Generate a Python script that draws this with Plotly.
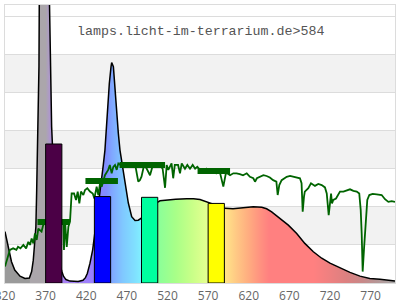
import plotly.graph_objects as go

# ---------------- data ----------------
# lamp spectrum (relative units)
lamp_nm = [320, 322, 324, 328, 332, 338.5, 344.6, 350, 352.8, 354.8,
           356.5, 358, 359, 360, 361, 361.8, 362.2, 364, 367, 370,
           373, 374.5, 376.2, 377.4, 378.3, 380, 382, 384, 386, 388,
           390, 392, 395, 400, 410, 416, 419, 421.3, 424.6, 427.9,
           430, 433, 436, 439, 441, 443, 446, 448.4, 450.5, 451.3,
           453.4, 455.4, 457.5, 459.5, 461.5, 465.6, 469, 471.8, 475.9, 480,
           484, 487.8, 492, 500, 507.5, 510.8, 519, 530, 543.6, 552,
           560, 568, 575, 585, 590.8, 600.6, 613.3, 625.6, 636, 642,
           648.2, 658.5, 668.7, 679, 689, 699.5, 709.8, 720, 732.3, 744.6,
           756.9, 769, 781.5, 790, 800]
lamp_val = [1.35, 1.15, 0.87, 0.56, 0.34, 0.18, 0.12, 0.13, 0.30, 0.60,
            1.05, 1.48, 2.44, 3.49, 4.10, 5.68, 7.40, 12.0, 16.0, 14.0,
            9.5, 7.3, 5.68, 4.10, 3.67, 2.60, 1.70, 1.10, 0.70, 0.45,
            0.30, 0.18, 0.09, 0.05, 0.04, 0.07, 0.14, 0.25, 0.52, 0.87,
            1.22, 1.70, 2.20, 2.70, 3.10, 3.49, 4.63, 5.24, 5.68, 5.79,
            5.68, 5.07, 4.45, 3.93, 3.49, 2.97, 2.44, 2.10, 1.74, 1.64,
            1.65, 1.70, 1.85, 2.00, 2.12, 2.16, 2.18, 2.20, 2.21, 2.21,
            2.19, 2.13, 2.08, 2.00, 1.96, 1.95, 1.98, 2.00, 1.99, 1.95,
            1.87, 1.70, 1.52, 1.30, 1.04, 0.82, 0.65, 0.52, 0.39, 0.28,
            0.18, 0.12, 0.10, 0.07, 0.05]

# wavelength colours for the spectrum fill (nm, colour)
spec_nm = [320, 350, 351, 370, 378, 390, 425, 432, 445, 452,
           465, 480, 488, 500, 510, 530, 550, 568, 580, 592,
           605, 620, 635, 645, 700, 720, 740, 760, 780, 800]
spec_col = ['#9a9a9a', '#9a9a9a', '#aba6ab', '#aba6ab', '#b090e0', '#a880f2',
            '#9c80fc', '#9080ff', '#8090ff', '#80a8ff', '#80c8ff', '#80e0ff',
            '#80f0ff', '#80ffc0', '#8cff98', '#a8ff88', '#c8ff88', '#e4ff90',
            '#ffff80', '#ffe288', '#ffc884', '#ffac80', '#ff9080', '#ff8080',
            '#ff8080', '#ee8080', '#dc8080', '#c88888', '#b49898', '#a8a8a8']

# sunlight spectrum
sun_nm = [320, 324, 326, 330, 334, 336, 339, 342.6, 346, 348.7,
          350.8, 352.8, 354.9, 356.9, 359, 361, 365, 367, 370, 375,
          380, 383, 386, 390, 391.8, 392.6, 393.8, 396, 398, 400,
          400.9, 402, 405, 407.4, 409.5, 411.5, 413.5, 416.4, 418.5, 421.3,
          424.6, 428, 430, 430.8, 432.8, 434.8, 437, 439, 443, 447,
          449, 451.3, 453.3, 455.4, 457.5, 459.5, 462.4, 465.6, 469, 471.8,
          475, 478, 481, 484, 486, 488, 491, 494, 498.5, 502,
          506, 510, 514, 517, 519, 521, 525, 527, 529, 533,
          535.4, 537.5, 541.5, 544.4, 547.7, 551, 554, 556.7, 560, 564,
          568, 572, 576, 580, 584, 588.7, 592, 597, 601, 605,
          609, 613, 617.5, 621.5, 625.6, 627.7, 630, 633.8, 638, 642,
          646, 650, 654, 655.6, 657.6, 660.5, 666.7, 670.8, 677, 683,
          685, 686.4, 688, 689, 693.3, 696.6, 701.5, 705.6, 709.8, 713.8,
          716, 717, 718.4, 720, 721.3, 722.5, 724, 727.4, 730.3, 732.3,
          736.5, 740.6, 744.6, 748.8, 752.9, 756, 757.8, 759, 760.2, 761.8,
          763, 764.3, 765.9, 768.4, 772.5, 777.5, 783.6, 787.7, 791.8, 796,
          800]
sun_val = [0.43, 0.69, 0.87, 0.91, 0.87, 0.95, 0.91, 1.00, 0.91, 1.08,
           1.00, 1.17, 1.04, 1.30, 1.13, 1.43, 1.35, 1.52, 1.61, 1.55,
           1.50, 1.60, 1.50, 1.58, 1.61, 0.87, 1.65, 0.95, 1.48, 1.61,
           2.09, 2.35, 2.35, 2.18, 2.40, 2.09, 2.40, 2.31, 2.44, 2.49,
           2.40, 2.35, 2.22, 2.35, 2.53, 2.31, 2.62, 2.53, 2.83, 2.97,
           3.10, 2.88, 3.05, 3.10, 2.97, 3.14, 3.10, 3.05, 3.12, 3.10,
           3.05, 3.12, 3.02, 2.66, 2.70, 2.79, 3.08, 3.02, 2.83, 3.10,
           3.05, 3.12, 3.00, 2.50, 3.10, 2.97, 3.14, 2.75, 3.10, 3.10,
           2.88, 3.14, 3.00, 3.10, 3.00, 3.10, 3.00, 3.05, 2.97, 2.90,
           3.00, 2.92, 2.97, 2.88, 2.95, 2.53, 2.90, 2.83, 2.88, 2.88,
           2.86, 2.83, 2.88, 2.79, 2.75, 2.66, 2.75, 2.79, 2.83, 2.81,
           2.77, 2.70, 2.66, 2.31, 2.57, 2.70, 2.79, 2.81, 2.77, 2.75,
           2.62, 1.87, 2.27, 2.40, 2.49, 2.62, 2.55, 2.60, 2.57, 2.51,
           2.35, 2.00, 1.78, 2.09, 2.35, 2.09, 2.18, 2.22, 2.35, 2.40,
           2.40, 2.44, 2.46, 2.42, 2.40, 2.35, 1.92, 1.30, 0.30, 0.87,
           1.30, 1.74, 2.18, 2.31, 2.34, 2.33, 2.31, 2.20, 2.13, 2.15,
           2.13]

# sunlight band averages
mark_start = [360, 419, 461, 557]
mark_end = [400, 459, 517, 597]
mark_val = [1.60, 2.68, 3.10, 2.94]

# LED bars
bar_center = [380, 440, 498, 580]
bar_width = [20, 20, 20, 20]
bar_val = [3.65, 2.27, 2.25, 2.09]
bar_col = ['#4b0046', '#0000ff', '#00ff9f', '#ffff00']

x_ticks = [320, 370, 420, 470, 520, 570, 620, 670, 720, 770]
x_range = [320, 800]
y_range = [0, 7.3]
watermark = 'lamps.licht-im-terrarium.de>584'

# ---------------- figure ----------------
fig = go.Figure()

span = x_range[1] - x_range[0]
colorscale = [[(n - x_range[0]) / span, c] for n, c in zip(spec_nm, spec_col)]

fig.add_trace(go.Scatter(
    x=lamp_nm, y=lamp_val, mode='lines',
    line=dict(color='black', width=1.5),
    fill='tozeroy',
    fillgradient=dict(type='horizontal', start=x_range[0], stop=x_range[1],
                      colorscale=colorscale),
    hoverinfo='skip', showlegend=False))

fig.add_trace(go.Scatter(
    x=sun_nm, y=sun_val, mode='lines',
    line=dict(color='#006400', width=1.8),
    hoverinfo='skip', showlegend=False))

for s, e, v in zip(mark_start, mark_end, mark_val):
    fig.add_trace(go.Scatter(
        x=[s, e], y=[v, v], mode='lines',
        line=dict(color='#006400', width=6),
        hoverinfo='skip', showlegend=False))

fig.add_trace(go.Bar(
    x=bar_center, y=bar_val, width=bar_width,
    marker=dict(color=bar_col, line=dict(color='black', width=1)),
    yaxis='y2', hoverinfo='skip', showlegend=False))

# alternating horizontal bands
shapes = []
for k in range(1, int(y_range[1]), 2):
    shapes.append(dict(type='rect', xref='paper', yref='y', x0=0, x1=1,
                       y0=k, y1=k + 1, fillcolor='#f2f2f2',
                       line=dict(width=0), layer='below'))

fig.update_layout(
    width=400, height=300,
    margin=dict(l=5, r=5, t=5, b=17),
    paper_bgcolor='white', plot_bgcolor='white',
    shapes=shapes,
    xaxis=dict(range=x_range, tickvals=x_ticks, ticktext=[str(t) for t in x_ticks],
               showgrid=False, zeroline=False, showline=True, mirror=True,
               linecolor='#dcdcdc', linewidth=1, ticks='', automargin=False,
               ticklabelstandoff=2, ticklabeloverflow='allow',
               tickfont=dict(family='Open Sans', size=12, color='#666666')),
    yaxis=dict(range=y_range, dtick=1, showticklabels=False, showgrid=True,
               gridcolor='#dcdcdc', gridwidth=1, zeroline=False, showline=True,
               mirror=True, linecolor='#dcdcdc', linewidth=1, ticks='',
               automargin=False),
    yaxis2=dict(range=y_range, overlaying='y', visible=False, showgrid=False,
                automargin=False),
    annotations=[dict(text=watermark, xref='paper', yref='paper', x=0.5, y=0.903,
                      xanchor='center', yanchor='middle', showarrow=False,
                      font=dict(family='Liberation Mono', size=13.3, color='#555555'))],
)

fig.write_html('out.html')
